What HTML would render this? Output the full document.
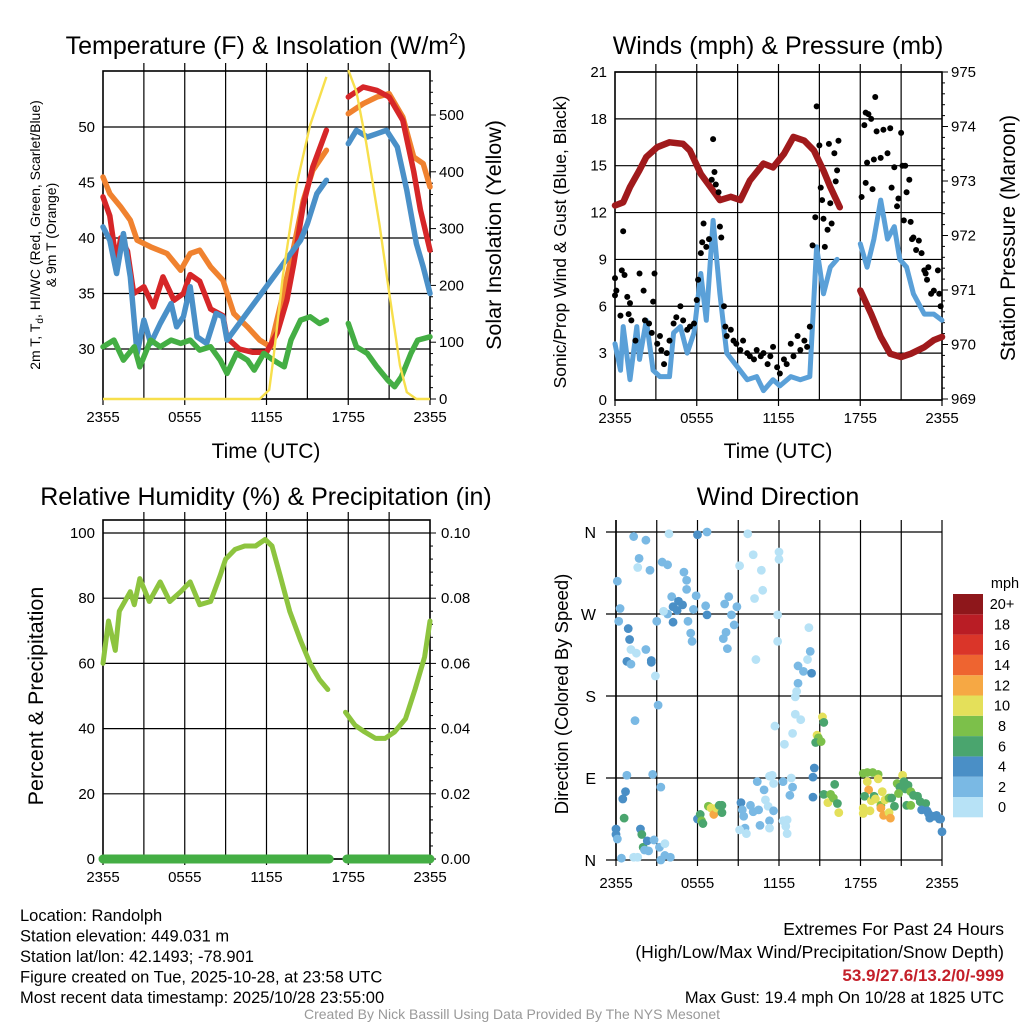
<!DOCTYPE html>
<html><head><meta charset="utf-8">
<style>
body{margin:0;background:#fff;}
svg{display:block;font-family:"Liberation Sans",Arial,sans-serif;}
</style></head>
<body>
<svg id="chart" width="1024" height="1024" viewBox="0 0 1024 1024"></svg>
<script>
// ---------- DATA ----------
const tickLabels=["2355","0555","1155","1755","2355"];
const tickHours=[0,6,12,18,24];
const tempTicks=[30,35,40,45,50];
const solarTicks=[0,100,200,300,400,500];
const windTicks=[0,3,6,9,12,15,18,21];
const presTicks=[969,970,971,972,973,974,975];
const rhTicks=[0,20,40,60,80,100];
const precipTicks=["0.00","0.02","0.04","0.06","0.08","0.10"];
const dirTicks=[0,90,180,270,360];
const dirLabels=["N","E","S","W","N"];
const cbLabels=["0","2","4","6","8","10","12","14","16","18","20+"];
const cbColors=["#b7e2f6","#7ab9e4","#4a8fc6","#4aa56e","#7cc04a","#e4e05a","#f6a844","#ee6430","#da3529","#b91d25","#8e171b"];

const redHours=[0,0.5,1,1.3,1.8,2.25,3,3.7,4.4,5.2,5.9,6.4,7.1,7.9,8.8,9.1,10,11,12,12.8,13.5,14,14.7,15.4,16.4,null,18,19.1,20.1,21,22,22.8,23.3,24];
const redTemp=[43.7,42,37.7,40,38.8,35,35.6,33.8,36.5,34.4,35,36.7,36.1,33.6,33,31,30,29.7,29.7,31.5,34.4,37.7,43,46.4,49.7,null,52.7,53.6,53.3,52.7,50.6,46,42.5,38.9];
const orangeHours=[0,0.5,1.3,2,2.5,3.5,4.7,5.7,6.4,7.1,7.9,8.8,9.6,10.6,11.5,12.3,13,14,14.7,15.4,16.4,null,18,19.1,20.1,21,22,22.8,23.5,24];
const orangeTemp=[45.5,44,42.8,41.6,39.8,39.2,38.6,37.1,38.6,38.9,37.4,36.2,33.2,32,30.8,30.2,33.8,39.2,43.4,46.1,47.9,null,51.2,52.1,52.7,53,50.9,47.3,46.7,44.6];
const blueHours=[0,0.5,1,1.5,2,2.5,3,3.5,4.2,5,5.4,5.9,6.4,6.9,7.6,8.3,8.8,9.1,14.5,15,15.7,16.4,null,18,18.6,19.4,20.1,20.8,21.6,22.3,23,23.5,24];
const blueTemp=[41,39.8,36.8,40.4,36.5,29.6,32.6,30.5,32.3,34.1,32,32.9,35.6,31.1,30.5,33.2,32.9,30.8,39.8,41.3,44,45.2,null,48.5,49.7,49.1,49.4,49.7,48.2,44.3,39.5,37.4,35];
const greenHours=[0,0.8,1.5,2.3,2.7,3.5,4.2,5,5.7,6.4,7.1,7.9,8.6,9.1,9.8,10.6,11.1,11.8,12.5,13.3,13.8,14.5,15.2,15.9,16.4,null,18,18.6,19.4,20.1,20.9,21.4,21.9,22.6,23.1,24];
const greenTemp=[30.2,30.8,29,30.2,28.4,30.8,30.2,30.8,30.5,30.8,29.9,30.2,29,27.8,29.6,29,28.1,29.6,29,28.4,30.8,32.6,32.9,32.3,32.6,null,32.3,30.2,29.6,28.4,27.2,26.6,27.5,29.6,30.8,31.1];
const solarHours=[0,11.5,12.2,12.5,13.2,14.2,15.2,16.4,null,18,18.6,19.3,20.3,21,21.8,22.3,23,24];
const solarVals=[0,0,16,70,217,376,482,567,null,579,541,453,306,188,59,12,0,0];

const presHours=[0,0.6,1.1,1.8,2.3,3.1,4.0,5.0,5.5,6.3,7.0,7.7,8.5,9.2,9.9,10.9,11.6,12.4,13.1,13.9,14.6,15.3,15.8,16.5,null,18.0,18.8,19.5,20.2,21.0,21.7,22.7,23.4,24];
const presVals=[972.55,972.61,972.89,973.2,973.44,973.62,973.71,973.68,973.56,973.13,972.89,972.65,972.71,972.65,973.01,973.32,973.25,973.5,973.81,973.74,973.56,973.19,972.89,972.52,null,970.99,970.56,970.14,969.83,969.77,969.83,969.95,970.08,970.14];
const windHours=[0,0.4,0.6,1.1,1.6,1.8,2.3,2.8,3.3,4.0,4.3,4.8,5.3,5.8,6.3,6.7,7.2,7.7,8.2,9.0,9.7,10.4,10.9,11.6,12.1,12.9,13.6,14.3,14.8,15.3,15.8,16.3,null,18.0,18.5,19.0,19.5,20.0,20.5,20.9,21.4,21.9,22.7,23.4,24];
const windVals=[3.6,1.9,4.7,1.3,4.7,2.6,5.1,1.9,1.5,1.5,4.3,4.7,3.0,4.3,8.1,5.1,11.5,6.8,3.0,2.1,1.3,1.5,0.6,1.3,0.9,1.5,1.3,1.5,9.8,6.8,8.5,9.0,null,10.0,8.5,10.3,12.8,10.3,11.1,9.0,8.5,6.8,5.5,5.5,5.1];
const gustHours=[0,0,0.1,0.4,0.6,0.5,0.7,0.9,1.0,1.1,1.2,1.5,1.8,2.1,2.2,2.5,2.7,2.8,2.9,3.1,3.3,3.4,3.6,3.8,4.0,4.3,4.5,4.8,5.0,5.3,5.5,5.8,6.0,6.1,6.3,6.4,6.5,6.7,6.9,7.1,7.2,7.3,7.4,7.6,7.7,7.8,8.0,8.1,8.2,8.5,8.7,8.9,9.2,9.4,9.7,9.9,10.2,10.4,10.7,10.9,11.2,11.4,11.6,11.9,12.1,12.4,12.6,12.9,13.1,13.4,13.6,13.9,14.1,14.3,14.5,14.7,14.8,15.0,15.1,15.2,15.3,15.4,15.6,15.7,15.8,15.9,16.1,16.2,16.3,16.4,18.1,18.3,18.4,18.6,18.8,18.4,18.5,18.9,19.0,19.1,19.2,19.5,19.7,20.0,20.2,20.3,20.5,20.7,20.8,21.0,21.1,21.2,21.3,21.4,21.6,21.7,21.8,21.9,22.1,22.3,22.5,22.7,22.8,22.9,23.0,23.2,23.4,23.7,23.8,23.9];
const gustVals=[7.8,6.7,7.0,5.4,10.8,8.3,8.0,6.6,5.5,6.2,5.1,3.8,8.1,7.0,5.1,4.9,4.3,6.3,8.1,3.6,4.1,3.2,2.3,3.0,3.8,4.9,5.3,6.0,5.1,4.5,4.7,4.9,6.4,7.7,9.4,10.1,11.3,9.8,10.3,14.1,16.7,14.6,13.8,13.3,11.1,10.4,6.0,4.7,4.1,4.5,3.8,3.6,3.2,3.8,3.0,2.8,2.6,3.2,2.8,3.0,2.3,2.8,3.4,2.1,1.7,2.6,2.3,3.6,2.8,4.1,3.2,3.8,3.4,4.7,9.9,11.7,18.8,16.3,13.6,12.8,11.6,9.8,10.9,16.4,12.6,11.3,15.8,14.0,14.7,16.6,13.0,17.6,18.4,18.3,18.0,13.9,15.2,13.5,15.4,19.4,17.2,15.5,17.3,15.8,17.4,13.6,14.9,12.4,12.9,17.1,15.0,11.5,15.0,13.3,14.1,11.4,10.3,10.4,9.6,10.2,9.4,8.3,8.1,7.7,8.5,6.8,7.0,8.3,6.8,6.0];

const rhHours=[0,0.4,0.9,1.2,2.0,2.3,2.7,3.4,4.2,4.9,5.7,6.4,7.1,7.9,8.6,9.0,9.7,10.4,11.2,11.9,12.4,13.0,13.7,14.5,15.2,15.9,16.5,null,17.8,18.5,19.2,20.0,20.7,21.4,22.2,22.9,23.6,24];
const rhVals=[60,73,64,76,82,78,86,79,85,79,82,85,78,79,87,92,95,96,96,98,96,87,76,67,60,55,52,null,45,41,39,37,37,39,43,52,62,73];
const precipHours=[0,16.6,null,17.9,24];
const precipVals=[0,0,null,0,0];

const dirHours=[0.1,0.3,0.2,1.3,2.2,1.7,1.6,2.5,3.9,6.0,6.7,3.4,3.8,5.0,5.2,5.2,4.1,5.9,4.2,4.6,4.9,4.5,3.8,3.5,4.2,5.3,5.5,5.6,3.0,5.7,6.6,6.7,8.0,8.3,8.9,8.5,8.7,8.1,7.9,8.2,0.9,1.0,0.8,1.1,1.1,1.5,2.2,2.6,2.6,2.9,3.1,1.4,0.8,2.7,3.3,0.7,0.5,0.6,0,0,0.1,0.4,1.3,1.6,1.8,1.9,2.0,2.3,2.1,2.4,2.8,3.2,3.6,3.6,4.0,3.3,9.1,9.7,10.1,10.7,10.8,10.2,12.0,12.0,11.9,11.9,14.2,10.3,14.3,14.1,13.8,13.4,13.4,13.3,13.2,14.4,13.2,13.6,11.7,13.0,12.4,15.2,15.3,14.8,14.9,14.7,15.1,14.6,14.5,14.5,10.4,10.9,11.0,11.2,11.6,11.3,10.6,11.3,9.5,9.2,9.3,9.4,9.9,10.1,10.5,9.1,9.6,11.3,11.6,11.5,12.3,12.9,13.0,12.8,12.3,12.6,12.5,12.6,6.0,6.2,6.3,6.4,6.8,7.0,7.2,7.4,7.6,7.8,7.8,15.3,15.8,16.1,15.6,16.0,16.3,16.4,18.2,18.5,18.9,19.3,19.3,18.5,18.6,18.3,18.8,19.0,19.6,19.1,19.5,19.8,20.1,20.3,20.5,18.2,18.2,18.7,19.5,19.7,20.1,20.2,20.7,21.1,21.2,21.3,20.9,20.8,21.5,21.7,21.9,22.2,22.4,22.7,22.8,22.5,22.9,23.0,23.1,23.4,23.6,23.8,23.9,24.0,21.4,21.7];
const dirDeg=[306,276,262,355,351,331,321,318,358,357,360,327,324,316,307,297,289,290,278,284,280,274,270,273,261,262,249,240,262,275,279,269,281,289,278,269,258,250,243,232,254,242,218,215,231,227,231,219,217,202,170,153,93,94,80,75,67,46,34,28,23,2,3,3,34,28,14,21,11,10,22,14,18,5,3,0,323,358,335,318,296,287,338,330,269,240,255,220,229,220,207,213,194,185,179,205,160,154,147,139,127,157,151,137,134,129,130,101,91,69,86,77,66,59,54,43,38,35,35,63,55,48,60,53,55,33,29,92,84,93,86,90,80,71,43,44,37,29,45,50,43,40,59,57,50,57,60,60,52,72,72,83,63,68,62,52,95,96,96,94,89,86,77,70,65,70,75,67,60,66,68,68,59,57,51,54,57,49,52,46,84,93,86,78,80,73,82,75,71,70,64,60,62,55,54,51,46,48,49,45,45,31,60,60];
const dirSpeed=[3,3,3,3,3,3,1,3,1,5,3,3,3,3,3,3,3,3,4,5,4,4,3,1,5,3,3,3,3,3,3,5,3,3,3,3,3,3,3,3,5,5,5,3,1,1,3,5,4,1,3,3,3,3,3,5,5,7,5,5,3,3,1,1,5,7,7,5,3,3,3,3,1,3,3,3,1,1,1,1,1,1,1,1,1,1,1,1,3,1,3,3,3,1,1,4,1,1,1,1,1,10,7,10,9,7,8,4,4,5,3,3,1,1,3,3,3,1,3,4,3,3,3,3,3,1,1,1,1,1,3,1,3,3,1,1,1,1,5,7,8,7,8,10,12,10,7,7,7,7,8,7,10,8,7,10,8,8,8,8,10,10,12,7,10,7,10,10,8,10,8,7,7,10,10,10,12,12,10,12,8,10,6,6,7,8,7,8,7,7,6,6,6,5,5,5,5,5,5,5,5,5,7,8];

// ---------- HELPERS ----------
const svg=document.getElementById('chart');
const NS='http://www.w3.org/2000/svg';
function mk(tag,attrs,parent){const e=document.createElementNS(NS,tag);for(const k in attrs)e.setAttribute(k,attrs[k]);(parent||svg).appendChild(e);return e;}
function txt(x,y,s,size,anchor,extra,parent){const t=mk('text',Object.assign({x:x,y:y,'font-size':size,'text-anchor':anchor||'middle',fill:'#000'},extra||{}),parent);t.textContent=s;return t;}
function pathFrom(hs,vs,fx,fy){let d='',pen=false;for(let i=0;i<hs.length;i++){if(hs[i]===null||vs[i]===null){pen=false;continue;}d+=(pen?'L':'M')+fx(hs[i]).toFixed(1)+','+fy(vs[i]).toFixed(1);pen=true;}return d;}

function frame(g,L,R,T,B){
  for(let h=3;h<24;h+=3){const x=L+h*(R-L)/24;mk('line',{x1:x,y1:T-8,x2:x,y2:B,stroke:'#000','stroke-width':1.2},g);}
  mk('rect',{x:L,y:T,width:R-L,height:B-T,fill:'none',stroke:'#000','stroke-width':1.6},g);
  tickHours.forEach((h,i)=>{const x=L+h*(R-L)/24;mk('line',{x1:x,y1:B,x2:x,y2:B+6,stroke:'#000','stroke-width':1.2},g);const t=txt(x,B+23,tickLabels[i],15,'middle',{},g);});
}

// ---------- PANEL 1 : TEMPERATURE ----------
const g1=mk('g',{});
const L1=103,R1=430,T1=71,B1=399;
const x1=h=>L1+h*(R1-L1)/24, yT=v=>349-(v-30)*11.1, yS=v=>B1-v*0.568;
tempTicks.forEach(v=>{mk('line',{x1:L1,y1:yT(v),x2:R1,y2:yT(v),stroke:'#000','stroke-width':1.2},g1);const t=txt(L1-8,yT(v)+5,String(v),15,'end',{},g1);});
frame(g1,L1,R1,T1,B1);
for(let v=0;v<=570;v+=20){mk('line',{x1:R1,y1:yS(v),x2:R1+(v%100===0?6:3),y2:yS(v),stroke:'#000','stroke-width':1},g1);}
solarTicks.forEach(v=>{const t=txt(R1+9,yS(v)+5,String(v),15,'start',{},g1);});
const lineStyle={fill:'none','stroke-width':5.5,'stroke-linejoin':'round','stroke-linecap':'round'};
let p;
p=mk('path',Object.assign({d:pathFrom(orangeHours,orangeTemp,x1,yT),stroke:'#f0822f'},lineStyle),g1);
p=mk('path',Object.assign({d:pathFrom(redHours,redTemp,x1,yT),stroke:'#d62628'},lineStyle),g1);
p=mk('path',Object.assign({d:pathFrom(blueHours,blueTemp,x1,yT),stroke:'#4a90c8'},lineStyle),g1);
p=mk('path',Object.assign({d:pathFrom(greenHours,greenTemp,x1,yT),stroke:'#44ae44'},lineStyle),g1);
p=mk('path',{d:pathFrom(solarHours,solarVals,x1,yS),stroke:'#f7df4c',fill:'none','stroke-width':2.4},g1);
let t;
t=txt(266,54,'',25,'middle',{},g1);t.innerHTML='Temperature (F) &amp; Insolation (W/m<tspan dy="-10" font-size="16">2</tspan><tspan dy="10">)</tspan>';
t=txt(266,458,'Time (UTC)',21,'middle',{},g1);
t=txt(0,0,'',14,'middle',{transform:'translate(40,235) rotate(-90)'},g1);t.innerHTML='2m T, T<tspan dy="3" font-size="10">d</tspan><tspan dy="-3">, HI/WC (Red, Green, Scarlet/Blue)</tspan>';
t=txt(0,0,'& 9m T (Orange)',14,'middle',{transform:'translate(56,235) rotate(-90)'},g1);
t=txt(0,0,'Solar Insolation (Yellow)',21.5,'middle',{transform:'translate(501,235) rotate(-90)'},g1);

// ---------- PANEL 2 : WINDS ----------
const g2=mk('g',{});
const L2=615,R2=942,T2=72,B2=400;
const x2=h=>L2+h*(R2-L2)/24, yW=v=>B2-v*15.62, yP=v=>399-(v-969)*54.5;
windTicks.forEach(v=>{mk('line',{x1:L2,y1:yW(v),x2:R2,y2:yW(v),stroke:'#000','stroke-width':1.2},g2);const t=txt(L2-8,yW(v)+5,String(v),15,'end',{},g2);});
frame(g2,L2,R2,T2,B2);
for(let v=969;v<=975.01;v+=0.2){mk('line',{x1:R2,y1:yP(v),x2:R2+(Math.abs(v-Math.round(v))<0.01?6:3),y2:yP(v),stroke:'#000','stroke-width':1},g2);}
presTicks.forEach(v=>{const t=txt(R2+9,yP(v)+5,String(v),15,'start',{},g2);});
p=mk('path',{d:pathFrom(presHours,presVals,x2,yP),stroke:'#a01a1c',fill:'none','stroke-width':6.5,'stroke-linejoin':'round','stroke-linecap':'round'},g2);
p=mk('path',{d:pathFrom(windHours,windVals,x2,yW),stroke:'#5aa0d8',fill:'none','stroke-width':5,'stroke-linejoin':'round','stroke-linecap':'round'},g2);
const gg=mk('g',{},g2);
gustHours.forEach((h,i)=>{const c=mk('circle',{cx:x2(h),cy:yW(gustVals[i]),r:3,fill:'#000'},gg);});
t=txt(778,54,'Winds (mph) & Pressure (mb)',25,'middle',{},g2);
t=txt(778,458,'Time (UTC)',21,'middle',{},g2);
t=txt(0,0,'Sonic/Prop Wind & Gust (Blue, Black)',17.5,'middle',{transform:'translate(566,242) rotate(-90)'},g2);
t=txt(0,0,'Station Pressure (Maroon)',21,'middle',{transform:'translate(1015,238) rotate(-90)'},g2);

// ---------- PANEL 3 : RH ----------
const g3=mk('g',{});
const L3=103,R3=430,T3=520,B3=859;
const x3=h=>L3+h*(R3-L3)/24, yR=v=>B3-v*3.26, yPr=v=>B3-v*3260;
rhTicks.forEach((v,i)=>{mk('line',{x1:L3,y1:yR(v),x2:R3,y2:yR(v),stroke:'#000','stroke-width':1.2},g3);const t=txt(L3-8,yR(v)+5,String(v),15,'end',{},g3);
  const t2=txt(R3+11,yR(v)+5,precipTicks[i],15,'start',{},g3);});
frame(g3,L3,R3,T3,B3);
for(let v=0;v<=100;v+=4){mk('line',{x1:R3,y1:yR(v),x2:R3+(v%20===0?6:3),y2:yR(v),stroke:'#000','stroke-width':1},g3);}
p=mk('path',{d:pathFrom(precipHours,precipVals,x3,yPr),stroke:'#44ae44',fill:'none','stroke-width':9,'stroke-linecap':'round'},g3);
p=mk('path',{d:pathFrom(rhHours,rhVals,x3,yR),stroke:'#8dc43f',fill:'none','stroke-width':5,'stroke-linejoin':'round','stroke-linecap':'round'},g3);
t=txt(266,505,'Relative Humidity (%) & Precipitation (in)',25,'middle',{},g3);
t=txt(0,0,'Percent & Precipitation',21.5,'middle',{transform:'translate(43,696) rotate(-90)'},g3);

// ---------- PANEL 4 : WIND DIRECTION ----------
const g4=mk('g',{});
const L4=616,R4=942,T4=520,B4=860;
const x4=h=>L4+h*(R4-L4)/24, yD=d=>B4-d*(328/360);
dirTicks.forEach((v,i)=>{mk('line',{x1:L4-10,y1:yD(v),x2:R4,y2:yD(v),stroke:'#000','stroke-width':1.2},g4);const t=txt(L4-20,yD(v)+6,dirLabels[i],16,'end',{},g4);});
for(let h=0;h<=24;h+=3){const x=x4(h);mk('line',{x1:x,y1:T4,x2:x,y2:B4+6,stroke:'#000','stroke-width':1.2},g4);}
mk('line',{x1:L4,y1:T4,x2:L4,y2:B4,stroke:'#000','stroke-width':1.6},g4);
tickHours.forEach((h,i)=>{const t=txt(x4(h),B4+28,tickLabels[i],15,'middle',{},g4);});
const dg=mk('g',{},g4);
function spdColor(s){const i=Math.min(10,Math.floor(s/2));return cbColors[i];}
dirHours.forEach((h,i)=>{const c=mk('circle',{cx:x4(h),cy:yD(dirDeg[i]),r:4.4,fill:spdColor(dirSpeed[i])},dg);});
t=txt(778,505,'Wind Direction',25,'middle',{},g4);
t=txt(0,0,'Direction (Colored By Speed)',18.5,'middle',{transform:'translate(568,694) rotate(-90)'},g4);
const cb=mk('g',{});
const cbTop=594,cbH=20.3;
cbColors.forEach((c,i)=>{const y=cbTop+(10-i)*cbH;const r=mk('rect',{x:953,y:y,width:30,height:cbH,fill:c},cb);
  const t=txt(1002,y+cbH/2+5,cbLabels[i],14.5,'middle',{},cb);});
t=txt(1005,588,'mph',14.5,'middle',{},cb);

// ---------- FOOTER TEXT ----------
const ft=mk('g',{});
["Location: Randolph","Station elevation: 449.031 m","Station lat/lon: 42.1493; -78.901","Figure created on Tue, 2025-10-28, at 23:58 UTC","Most recent data timestamp: 2025/10/28 23:55:00"].forEach((s,i)=>{const t=txt(20,921+i*20.5,s,16.5,'start',{},ft);});
const ex=mk('g',{});
t=txt(1004,935,'Extremes For Past 24 Hours',17.5,'end',{},ex);
t=txt(1004,958,'(High/Low/Max Wind/Precipitation/Snow Depth)',17.5,'end',{},ex);
t=txt(1004,981,'53.9/27.6/13.2/0/-999',17,'end',{fill:'#c4202a','font-weight':'bold'},ex);
t=txt(1004,1003,'Max Gust: 19.4 mph On 10/28 at 1825 UTC',16.5,'end',{},ex);
t=txt(512,1019,'Created By Nick Bassill Using Data Provided By The NYS Mesonet',14,'middle',{fill:'#999'});
</script>
</body></html>
